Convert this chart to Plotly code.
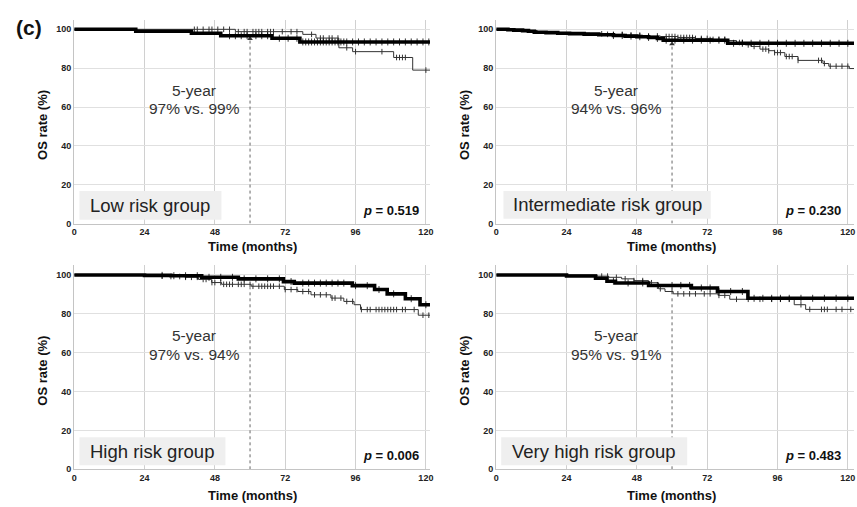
import numpy as np
import plotly.graph_objects as go

# ---------------- data ----------------
groups = ["Low risk group", "Intermediate risk group", "High risk group", "Very high risk group"]
p_values = ["0.519", "0.230", "0.006", "0.483"]
five_year_text = ["97% vs. 99%", "94% vs. 96%", "97% vs. 94%", "95% vs. 91%"]
x_ticks = [0, 24, 48, 72, 96, 120]
y_ticks = [0, 20, 40, 60, 80, 100]
landmark_month = 60
landmark_top = [95.9, 93.3, 93.7, 89.5]

# panel 1 - low risk
p1_thick_t = [0, 21, 40, 50, 67.5, 77, 125]
p1_thick_s = [100, 99.0, 98.0, 96.7, 95.4, 93.5, 93.5]
p1_thin_t = [0, 55, 78, 82.5, 90.3, 95, 109, 115.5, 125]
p1_thin_s = [100, 98.8, 97.4, 95.5, 90.5, 88.5, 85.5, 79.0, 79.0]
p1_thin_c = [41, 42, 44, 46, 47, 49, 51, 53, 56, 58, 59, 61, 62, 63, 64, 66, 67, 68, 71, 74, 76,
             81, 84, 85, 87, 88, 90, 93, 96, 105, 110, 111, 112, 113, 120]
p1_thick_c = [53, 55, 57, 59, 62, 64, 66, 70, 73, 76, 78, 79, 80, 81, 82, 83, 84, 85, 86, 87, 88,
              89, 90, 91, 92, 93, 95, 97, 99, 101, 103, 105, 107, 109, 111, 113, 115, 117, 119, 121]

# panel 2 - intermediate risk
p2_thick_t = [0, 4, 6, 9, 11, 13, 17, 21, 25, 30, 35, 40, 44, 48, 52, 55, 57, 79, 125]
p2_thick_s = [100, 99.8, 99.6, 99.3, 99.0, 98.5, 98.3, 98.0, 97.8, 97.5, 97.2, 96.8, 96.5, 96.2,
              95.8, 95.3, 94.4, 92.8, 92.8]
p2_thin_t = [0, 5, 10, 14, 20, 26, 32, 38, 44, 50, 56, 62, 68, 74, 79, 82, 85, 87, 90, 93, 95,
             98.5, 103, 111.5, 113.5, 120.5, 125]
p2_thin_s = [100, 99.8, 99.4, 98.8, 98.4, 98.0, 97.7, 97.4, 97.0, 96.6, 96.3, 95.8, 95.3, 94.8,
             94.2, 93.2, 92.0, 91.2, 89.8, 89.0, 88.0, 86.0, 84.0, 82.4, 81.0, 79.8, 79.8]
p2_thin_c = [36, 38, 40, 43, 46, 49, 52, 55, 58, 59, 60, 61, 62, 63, 64, 65, 66, 67, 68, 70, 72,
             74, 76, 78, 83, 84, 86, 88, 91, 92, 93, 95, 96, 97, 99, 100, 101, 103, 110, 111, 112,
             114, 116, 118, 120]
p2_thick_c = [40, 43, 46, 49, 52, 55, 58, 61, 64, 67, 70, 73, 76, 78, 81, 84, 87, 90, 93, 96, 99,
              102, 105, 108, 111, 114, 117, 120]

# panel 3 - high risk
p3_thick_t = [0, 24, 33, 43.5, 56, 71.4, 75.1, 94.9, 102.5, 106.8, 113, 118, 125]
p3_thick_s = [100, 99.8, 99.6, 98.8, 98.0, 96.6, 95.8, 94.5, 92.5, 90.3, 87.8, 84.7, 84.7]
p3_thin_t = [0, 22, 28, 33, 37.8, 42.4, 46.9, 50.3, 60.4, 71.7, 76.3, 80.8, 87.6, 92, 95.5,
             97.7, 117.4, 125]
p3_thin_s = [100, 99.8, 99.5, 99.2, 98.8, 97.7, 96.1, 95.2, 94.2, 92.5, 91.5, 89.8, 88.1, 86.4,
             84.7, 82.2, 79.3, 79.3]
p3_thin_c = [30, 33, 36, 38, 40, 42, 44, 45, 47, 48, 50, 51, 52, 53, 54, 56, 57, 58, 60, 61, 63,
             64, 65, 66, 67, 68, 70, 72, 74, 76, 78, 80, 82, 84, 86, 88, 89, 91, 93, 95, 98, 100,
             101, 103, 104, 105, 106, 107, 108, 109, 110, 112, 113, 116, 119, 121]
p3_thick_c = [30, 34, 38, 42, 46, 50, 54, 58, 62, 66, 70, 74, 78, 80, 82, 84, 86, 88, 90, 92, 96,
              100, 104, 109, 115, 120]

# panel 4 - very high risk
p4_thick_t = [0, 24, 33.9, 37.8, 40.7, 52, 66.6, 75.5, 85.9, 125]
p4_thick_s = [100, 99.5, 98.3, 96.8, 95.9, 94.6, 93.3, 91.5, 88.0, 88.0]
p4_thin_t = [0, 34.4, 38.4, 42.8, 47, 52, 55.4, 57.6, 60.4, 75.7, 79.7, 101.7, 105.6, 125]
p4_thin_s = [100, 99.4, 98.8, 98.0, 97.1, 96.0, 92.9, 91.5, 90.3, 89.5, 87.5, 84.7, 82.3, 82.3]
p4_thin_c = [36, 38, 41, 44, 47, 50, 53, 56, 60, 62, 64, 66, 68, 71, 73, 76, 78, 82, 86, 90, 94,
             97, 100, 104, 107, 111, 112, 113, 116, 118, 121]
p4_thick_c = [40, 45, 50, 55, 60, 63, 66, 70, 73, 76, 80, 84, 88, 91, 94, 97, 100, 104, 108, 112,
              116, 120]

panels = [
    (p1_thick_t, p1_thick_s, p1_thick_c, p1_thin_t, p1_thin_s, p1_thin_c),
    (p2_thick_t, p2_thick_s, p2_thick_c, p2_thin_t, p2_thin_s, p2_thin_c),
    (p3_thick_t, p3_thick_s, p3_thick_c, p3_thin_t, p3_thin_s, p3_thin_c),
    (p4_thick_t, p4_thick_s, p4_thick_c, p4_thin_t, p4_thin_s, p4_thin_c),
]

# ---------------- layout geometry (pixels) ----------------
W, H = 857, 507
FONT = "Arial, Liberation Sans, sans-serif"
x_px = {"left": (71.7, 430.0), "right": (496.7, 857.0)}
x_rng = {"left": [0, 121.4], "right": [0, 122.1]}
y_px = {"top": (19.8, 225.8), "bottom": (267.9, 474.0)}
pos = [("left", "top"), ("right", "top"), ("left", "bottom"), ("right", "bottom")]


def step_val(t, s, c):
    t = np.asarray(t); s = np.asarray(s)
    idx = np.searchsorted(t, np.asarray(c), side="right") - 1
    return s[idx]


fig = go.Figure()
layout = dict(width=W, height=H, margin=dict(l=0, r=0, t=0, b=0),
              paper_bgcolor="white", plot_bgcolor="white", showlegend=False,
              font=dict(family=FONT, color="#222"))
annotations = []
shapes = []

for i, (thick_t, thick_s, thick_c, thin_t, thin_s, thin_c) in enumerate(panels):
    n = i + 1
    xa = "x" if n == 1 else f"x{n}"
    ya = "y" if n == 1 else f"y{n}"
    hpos, vpos = pos[i]
    x0, x1 = x_px[hpos]
    yt, yb = y_px[vpos]
    layout["xaxis" if n == 1 else f"xaxis{n}"] = dict(
        domain=[x0 / W, x1 / W], range=x_rng[hpos], anchor=ya,
        tickvals=x_ticks, ticks="", showgrid=True, gridcolor="#d0d0d0", gridwidth=1,
        zeroline=False, showline=True, linecolor="#c4c4c4", linewidth=1.2,
        tickfont=dict(size=9, family=FONT, color="#222", weight="bold"))
    layout["yaxis" if n == 1 else f"yaxis{n}"] = dict(
        domain=[1 - yb / H, 1 - yt / H], range=[0, 105], anchor=xa,
        tickvals=y_ticks, ticks="", showgrid=True, gridcolor="#e0e0e0", gridwidth=1.4,
        zeroline=False, showline=True, linecolor="#c4c4c4", linewidth=1.2,
        tickfont=dict(size=9, family=FONT, color="#222", weight="bold"))

    # landmark dotted line
    fig.add_trace(go.Scatter(x=[landmark_month, landmark_month], y=[0, landmark_top[i]],
                             mode="lines", line=dict(color="#666", width=1, dash="dot"),
                             xaxis=xa, yaxis=ya, hoverinfo="skip"))
    if vpos == "top":
        fig.add_trace(go.Scatter(x=[landmark_month], y=[landmark_top[i] - 0.8], mode="markers",
                                 marker=dict(symbol="triangle-up", size=5, color="#333"),
                                 xaxis=xa, yaxis=ya, hoverinfo="skip"))

    # thin curve
    fig.add_trace(go.Scatter(x=thin_t, y=thin_s, mode="lines", line_shape="hv",
                             line=dict(color="#333", width=1), xaxis=xa, yaxis=ya))
    fig.add_trace(go.Scatter(x=thin_c, y=step_val(thin_t, thin_s, thin_c), mode="markers",
                             marker=dict(symbol="line-ns", size=4,
                                         line=dict(color="#333", width=1)),
                             xaxis=xa, yaxis=ya))
    # thick curve
    fig.add_trace(go.Scatter(x=thick_t, y=thick_s, mode="lines", line_shape="hv",
                             line=dict(color="black", width=3.6), xaxis=xa, yaxis=ya))
    fig.add_trace(go.Scatter(x=thick_c, y=step_val(thick_t, thick_s, thick_c), mode="markers",
                             marker=dict(symbol="line-ns", size=5,
                                         line=dict(color="black", width=0.8)),
                             xaxis=xa, yaxis=ya))

    # five-year text
    annotations.append(dict(x=41, y=68.7, xref=xa, yref=ya, text="5-year", showarrow=False,
                            xanchor="center", yanchor="middle",
                            font=dict(size=15.5, color="#333", family=FONT)))
    annotations.append(dict(x=41, y=59.0, xref=xa, yref=ya, text=five_year_text[i],
                            xanchor="center", yanchor="middle",
                            showarrow=False, font=dict(size=15.5, color="#333", family=FONT)))
    # p-value
    annotations.append(dict(x=(x0 + 349.5) / W,
                            y=1 - (yb - 13.5) / H, xref="paper", yref="paper",
                            xanchor="right", yanchor="middle",
                            text=f"<b><i>p</i> = {p_values[i]}</b>", showarrow=False,
                            font=dict(size=13, color="#111", family=FONT)))
    # axis titles
    annotations.append(dict(x=(x0 + x1) / 2 / W - (0.004 if hpos == "right" else 0.0),
                            y=1 - (yb + (23.5 if vpos == "top" else 26.5)) / H,
                            xref="paper", yref="paper", text="<b>Time (months)</b>",
                            showarrow=False, xanchor="center", yanchor="middle",
                            font=dict(size=13, color="#111", family=FONT)))
    annotations.append(dict(x=(x0 - 32) / W, y=1 - ((yt + yb) / 2 + 3) / H,
                            xref="paper", yref="paper", text="<b>OS rate (%)</b>",
                            textangle=-90, showarrow=False, xanchor="center", yanchor="middle",
                            font=dict(size=13, color="#111", family=FONT)))

# group label boxes (pixel positions)
boxes = [(77, 220, 193, 222), (504, 712.7, 193, 221), (77, 224, 441.7, 470), (501.7, 689, 441.7, 470)]
for i, (bx0, bx1, by0, by1) in enumerate(boxes):
    shapes.append(dict(type="rect", xref="paper", yref="paper",
                       x0=bx0 / W, x1=bx1 / W, y0=1 - by1 / H, y1=1 - by0 / H,
                       fillcolor="#efefef", line=dict(width=0), layer="above"))
    annotations.append(dict(x=(bx0 + bx1) / 2 / W, y=1 - ((by0 + by1) / 2) / H,
                            xref="paper", yref="paper", text=groups[i], showarrow=False,
                            xanchor="center", yanchor="middle",
                            font=dict(size=18.5, color="#222", family=FONT)))

annotations.append(dict(x=26 / W, y=1 - 28 / H, xref="paper", yref="paper", text="<b>(c)</b>",
                        showarrow=False, xanchor="center", yanchor="middle",
                        font=dict(size=21, color="#111", family=FONT)))

layout["annotations"] = annotations
layout["shapes"] = shapes
fig.update_layout(**layout)
fig.write_html("out.html", config={"displayModeBar": False},
               post_script="document.body.style.margin='0';document.body.style.overflow='hidden';")
